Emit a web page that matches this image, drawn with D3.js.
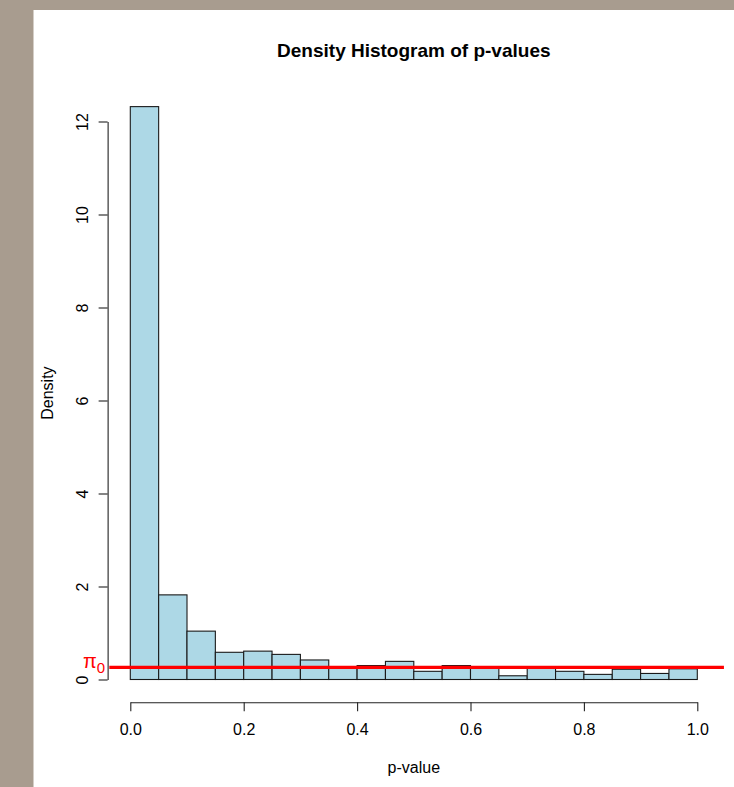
<!DOCTYPE html>
<html>
<head>
    <meta charset="utf-8" />
    <title>Density Histogram of p-values</title>
    <script src="https://d3js.org/d3.v7.min.js"></script>
    <style>
        body { margin: 0; background: #a89c8f; }
        svg { display: block; }
        text { font-family: "Liberation Sans", Arial, sans-serif; }
    </style>
</head>
<body>
<svg id="hist" width="734" height="787"></svg>

<script>
    // Bin edges of the histogram (p-value)
    const binStarts = [0.00, 0.05, 0.10, 0.15, 0.20, 0.25, 0.30, 0.35, 0.40, 0.45,
                       0.50, 0.55, 0.60, 0.65, 0.70, 0.75, 0.80, 0.85, 0.90, 0.95];
    const binWidth = 0.05;

    // Density of each bin
    const densities = [12.32, 1.82, 1.04, 0.585, 0.61, 0.54, 0.42, 0.26, 0.30, 0.39,
                       0.176, 0.30, 0.25, 0.08, 0.25, 0.176, 0.11, 0.22, 0.13, 0.23];

    // Estimated proportion of true nulls
    const pi0 = 0.262;

    const xTicks = [0, 0.2, 0.4, 0.6, 0.8, 1.0];
    const yTicks = [0, 2, 4, 6, 8, 10, 12];

    const bins = binStarts.map((s, i) => ({ x0: s, x1: s + binWidth, density: densities[i] }));

    const svg = d3.select("#hist");

    // white plotting panel
    svg.append("rect")
        .attr("x", 33.5)
        .attr("y", 10)
        .attr("width", 734)
        .attr("height", 787)
        .attr("fill", "white");

    const xScale = d3.scaleLinear()
        .domain([0, 1])
        .range([130.3, 697.3]);

    const yScale = d3.scaleLinear()
        .domain([0, 12])
        .range([679.5, 121.5]);

    // plot region (R extends limits 4%)
    const plotLeft = xScale(-0.04);
    const plotRight = xScale(1.04);
    const plotBottom = yScale(-0.49);
    const plotTop = yScale(12.81);

    // Bars
    svg.append("g")
        .selectAll("rect")
        .data(bins)
        .enter().append("rect")
        .attr("x", d => xScale(d.x0))
        .attr("y", d => yScale(d.density))
        .attr("width", d => xScale(d.x1) - xScale(d.x0))
        .attr("height", d => yScale(0) - yScale(d.density))
        .attr("fill", "#add8e6")
        .attr("stroke", "#1a1a1a")
        .attr("stroke-width", 1.1);

    // X axis
    const xAxis = d3.axisBottom(xScale)
        .tickValues(xTicks)
        .tickFormat(d3.format(".1f"))
        .tickSize(9)
        .tickPadding(12)
        .tickSizeOuter(0);

    const gx = svg.append("g")
        .attr("transform", `translate(0, ${plotBottom})`)
        .call(xAxis);

    // Y axis
    const yAxis = d3.axisLeft(yScale)
        .tickValues(yTicks)
        .tickSize(9)
        .tickSizeOuter(0);

    const gy = svg.append("g")
        .attr("transform", `translate(${plotLeft}, 0)`)
        .call(yAxis);

    [gx, gy].forEach(g => {
        g.select(".domain").attr("stroke", "#222").attr("stroke-width", 1.1);
        g.selectAll(".tick line").attr("stroke", "#222").attr("stroke-width", 1.1);
        g.selectAll(".tick text")
            .attr("fill", "black")
            .style("font-size", "16px")
            .style("font-family", "'Liberation Sans', Arial, sans-serif");
    });

    // rotate y tick labels like R (las = 0)
    gy.selectAll(".tick text")
        .attr("x", 0)
        .attr("dy", 0)
        .attr("transform", "translate(-19.5, 0) rotate(-90)")
        .attr("text-anchor", "middle");

    // pi0 line
    svg.append("line")
        .attr("x1", xScale(-0.037))
        .attr("x2", xScale(1.047))
        .attr("y1", yScale(pi0))
        .attr("y2", yScale(pi0))
        .attr("stroke", "#ff0000")
        .attr("stroke-width", 3.2);

    // pi0 label
    const piLabel = svg.append("text")
        .attr("x", 83)
        .attr("y", yScale(pi0) + 1)
        .attr("fill", "#ff0000")
        .style("font-size", "20px")
        .text("\u03C0");
    piLabel.append("tspan")
        .attr("dy", 4.5)
        .style("font-size", "15px")
        .text("0");

    // Title
    svg.append("text")
        .attr("x", (plotLeft + plotRight) / 2)
        .attr("y", 56.5)
        .attr("text-anchor", "middle")
        .style("font-size", "19px")
        .style("font-weight", "bold")
        .text("Density Histogram of p-values");

    // X axis label
    svg.append("text")
        .attr("x", (plotLeft + plotRight) / 2)
        .attr("y", 773)
        .attr("text-anchor", "middle")
        .style("font-size", "16px")
        .text("p-value");

    // Y axis label
    svg.append("text")
        .attr("transform", `translate(52.5, ${(plotTop + plotBottom) / 2}) rotate(-90)`)
        .attr("text-anchor", "middle")
        .style("font-size", "16px")
        .text("Density");
</script>
</body>
</html>
